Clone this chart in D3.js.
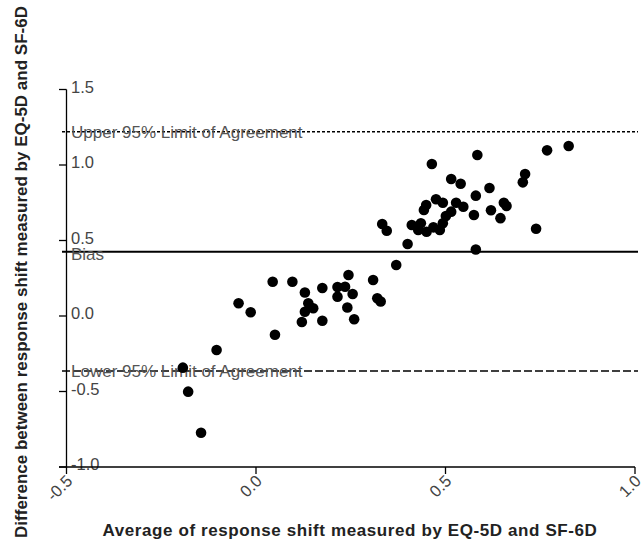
<!DOCTYPE html>
<html>
<head>
<meta charset="utf-8">
<script src="https://cdn.jsdelivr.net/npm/d3@7"></script>
<style>
  body { margin: 0; background: #fff; }
  svg { display: block; font-family: "Liberation Sans", Arial, sans-serif; }
</style>
</head>
<body>
<div id="chart"></div>
<script>
var svgWidth = 641;
var svgHeight = 546;

// data: average (x) and difference (y)
var avgValues = [-0.193, -0.179, -0.145, -0.104, -0.046, -0.014, 0.044, 0.050, 0.096, 0.121,
  0.129, 0.129, 0.138, 0.151, 0.175, 0.175, 0.215, 0.215, 0.235, 0.244,
  0.241, 0.255, 0.259, 0.309, 0.320, 0.329, 0.333, 0.345, 0.370, 0.400,
  0.411, 0.435, 0.428, 0.450, 0.468, 0.485, 0.493, 0.443, 0.449, 0.464,
  0.475, 0.493, 0.501, 0.515, 0.515, 0.528, 0.540, 0.547, 0.575, 0.580,
  0.580, 0.584, 0.616, 0.620, 0.645, 0.654, 0.661, 0.704, 0.710, 0.739,
  0.768, 0.825];
var diffValues = [-0.342, -0.501, -0.773, -0.225, 0.084, 0.025, 0.227, -0.124, 0.227, -0.040,
  0.156, 0.028, 0.084, 0.051, 0.185, -0.031, 0.192, 0.128, 0.194, 0.272,
  0.056, 0.146, -0.022, 0.238, 0.117, 0.096, 0.609, 0.565, 0.338, 0.477,
  0.603, 0.614, 0.570, 0.558, 0.587, 0.570, 0.614, 0.702, 0.735, 1.007,
  0.773, 0.750, 0.662, 0.691, 0.907, 0.750, 0.876, 0.724, 0.669, 0.797,
  0.440, 1.066, 0.848, 0.700, 0.648, 0.750, 0.728, 0.885, 0.940, 0.578,
  1.097, 1.126];

var xTicks = [-0.5, 0.0, 0.5, 1.0];
var yTicks = [-1.0, -0.5, 0.0, 0.5, 1.0, 1.5];

var refLabels = ["Upper 95% Limit of Agreement", "Bias", "Lower 95% Limit of Agreement"];
var refValues = [1.22, 0.426, -0.364];

var points = avgValues.map(function(d, i) { return { x: d, y: diffValues[i] }; });

var svg = d3.select("#chart")
  .append("svg")
  .attr("width", svgWidth)
  .attr("height", svgHeight);

var xScale = d3.scaleLinear().domain([-0.5, 1.0]).range([66.5, 635]);
var yScale = d3.scaleLinear().domain([-1.0, 1.5]).range([467, 89.5]);

// y axis: line on the left, ticks outward, labels inside
svg.append("line")
  .attr("x1", 66.5).attr("x2", 66.5)
  .attr("y1", yScale(1.5)).attr("y2", yScale(-1.0))
  .attr("stroke", "#000").attr("stroke-width", 1.3);

svg.selectAll(".ytick")
  .data(yTicks)
  .enter()
  .append("line")
  .attr("x1", 59).attr("x2", 66.5)
  .attr("y1", d => yScale(d)).attr("y2", d => yScale(d))
  .attr("stroke", "#000").attr("stroke-width", 1.3);

svg.selectAll(".ylab")
  .data(yTicks)
  .enter()
  .append("text")
  .attr("x", 71)
  .attr("y", d => yScale(d) - 2)
  .attr("dy", "0.32em")
  .attr("font-size", 16.5)
  .attr("fill", "#444")
  .text(d => d.toFixed(1));

// x axis
svg.append("line")
  .attr("x1", 59).attr("x2", xScale(1.0))
  .attr("y1", 467).attr("y2", 467)
  .attr("stroke", "#000").attr("stroke-width", 1.3);

svg.selectAll(".xtick")
  .data(xTicks)
  .enter()
  .append("line")
  .attr("x1", d => xScale(d)).attr("x2", d => xScale(d))
  .attr("y1", 467).attr("y2", 474)
  .attr("stroke", "#000").attr("stroke-width", 1.3);

svg.selectAll(".xlab")
  .data(xTicks)
  .enter()
  .append("text")
  .attr("transform", d => `translate(${xScale(d) + 7}, ${482}) rotate(-45)`)
  .attr("text-anchor", "end")
  .attr("font-size", 16.5)
  .attr("fill", "#444")
  .text(d => d.toFixed(1));

// reference lines
var dashes = ["3,2", null, "8,3"];
var widths = [1.6, 2, 1.6];
svg.selectAll(".ref")
  .data(refValues)
  .enter()
  .append("line")
  .attr("x1", 62).attr("x2", 638)
  .attr("y1", d => yScale(d)).attr("y2", d => yScale(d))
  .attr("stroke", "#000")
  .attr("stroke-width", (d, i) => widths[i])
  .attr("stroke-dasharray", (d, i) => dashes[i]);

svg.selectAll(".reflab")
  .data(refValues)
  .enter()
  .append("text")
  .attr("x", 71)
  .attr("y", (d, i) => yScale(d) + (i == 1 ? 2 : 0))
  .attr("dy", "0.35em")
  .attr("font-size", 17)
  .attr("fill", "#555")
  .text((d, i) => refLabels[i]);

// points
svg.selectAll("circle")
  .data(points)
  .enter()
  .append("circle")
  .attr("cx", d => xScale(d.x))
  .attr("cy", d => yScale(d.y))
  .attr("r", 5.3)
  .attr("fill", "#000");

// axis titles
svg.append("text")
  .attr("x", 350)
  .attr("y", 536)
  .attr("text-anchor", "middle")
  .attr("font-size", 17)
  .attr("font-weight", "bold")
  .attr("letter-spacing", 0.6)
  .attr("fill", "#222")
  .text("Average of response shift measured by EQ-5D and SF-6D");

svg.append("text")
  .attr("transform", "translate(27, 272) rotate(-90)")
  .attr("text-anchor", "middle")
  .attr("font-size", 17)
  .attr("font-weight", "bold")
  .attr("fill", "#222")
  .text("Difference between response shift measured by EQ-5D and SF-6D");
</script>
</body>
</html>
